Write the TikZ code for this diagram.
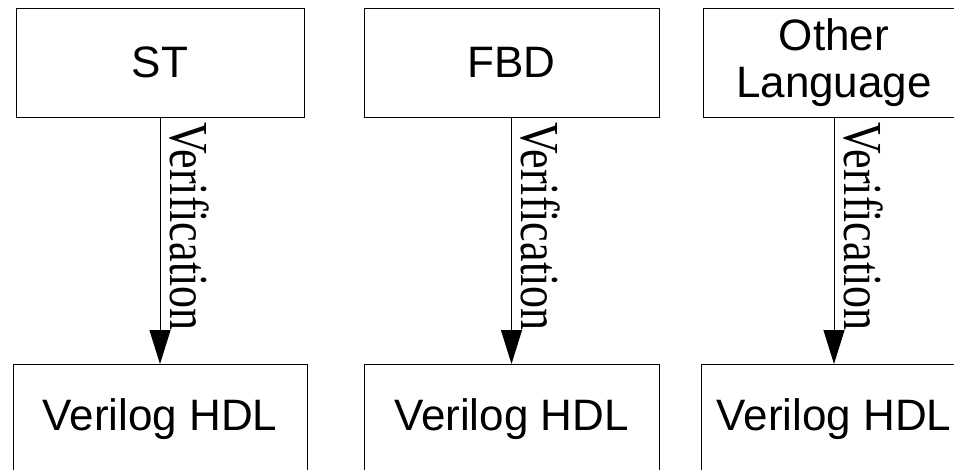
\documentclass[tikz,border=0pt]{standalone}
\usepackage{fontspec}
\setmainfont{Liberation Serif}
\setsansfont{Liberation Sans}
\usetikzlibrary{arrows.meta}

\tikzset{
  langbox/.style={draw, line width=1pt, minimum height=109pt, inner sep=0pt,
    align=center, font=\sffamily\fontsize{44}{47}\selectfont},
  verif/.style={rotate=-90, yscale=1.25, anchor=base west, inner sep=0pt,
    font=\rmfamily\fontsize{44}{44}\selectfont},
  flow/.style={-{Triangle[length=34pt, width=21pt]}, line width=1pt},
}

\begin{document}
\begin{tikzpicture}[x=1pt, y=-1pt] % {{{
\clip (0,0) rectangle (954,469);
% ST {{{
\node[langbox, minimum width=288pt] (st) at (160,62.5) {ST};
\node[langbox, minimum width=294pt] (hdlst) at (160,419) {Verilog HDL};
\draw[flow] (st) -- (hdlst);
\path (st.south) ++(10,5) node[verif] (vst) {Verification};
% }}}
% FBD {{{
\node[langbox, minimum width=295pt] (fbd) at (511.5,62.5) {FBD};
\node[langbox, minimum width=295pt] (hdlfbd) at (511.5,419) {Verilog HDL};
\draw[flow] (fbd) -- (hdlfbd);
\path (fbd.south) ++(10,5) node[verif] (vfbd) {Verification};
% }}}
% Other language {{{
\node[langbox, minimum width=262pt] (other) at (834,62.5) {Other\\Language};
\node[langbox, minimum width=266pt] (hdlother) at (834,419) {Verilog HDL};
\draw[flow] (other) -- (hdlother);
\path (other.south) ++(10,5) node[verif] (vother) {Verification};
% }}}
\end{tikzpicture} % }}}
\end{document}
